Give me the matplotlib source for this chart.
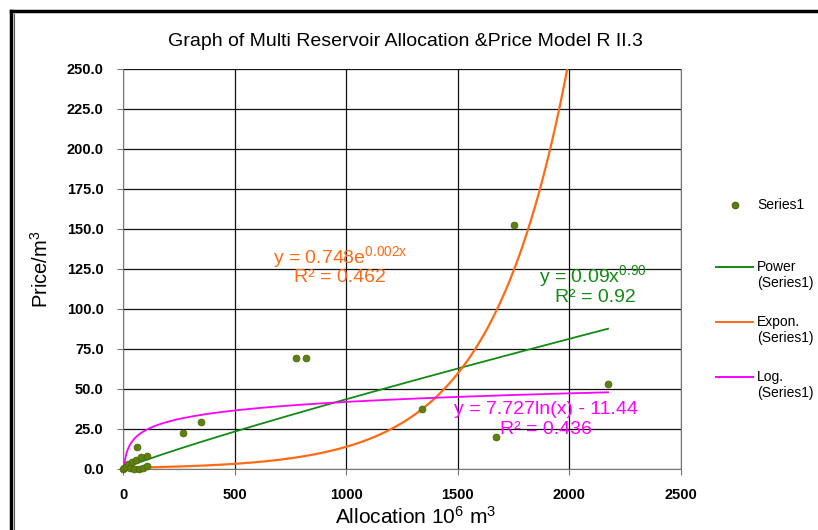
import numpy as np
import matplotlib
matplotlib.use('Agg')
import matplotlib.pyplot as plt
from matplotlib.lines import Line2D
from matplotlib.ticker import MultipleLocator, FormatStrFormatter

plt.rcParams['font.family'] = ['Liberation Sans', 'DejaVu Sans']
plt.rcParams['mathtext.default'] = 'regular'

# Series1 points (allocation, price)
alloc = [0, 5, 13, 24, 31, 42, 50, 58, 61, 73, 79, 90, 106, 106,
         269, 349, 775, 820, 1340, 1671, 1752, 2173]
price = [0.0, 0.5, 1.5, 2.9, 0.6, 4.2, 0.3, 5.6, 14.0, 0.2, 7.7, 0.5, 8.1, 1.9,
         22.5, 29.4, 69.4, 69.4, 37.5, 20.0, 152.5, 53.1]

# trendline parameters (as drawn)
pow_a, pow_b = 0.087, 0.90
exp_a, exp_k = 0.748, 0.00292
log_a, log_b = 7.727, -11.44

pow_label = ['y = 0.09x$^{0.90}$', 'R² = 0.92']
exp_label = ['y = 0.748e$^{0.002x}$', 'R² = 0.462']
log_label = ['y = 7.727ln(x) - 11.44', 'R² = 0.436']

c_pts = '#5f7f12'
c_pow = '#138a13'
c_exp = '#ff6a14'
c_log = '#ff00ff'

W, H = 818, 530
fig = plt.figure(figsize=(W/100, H/100), dpi=100)
ax = fig.add_axes([123/W, 61/H, 558/W, 400/H])

xx = np.linspace(0, max(alloc), 800)
ax.plot(xx, pow_a*xx**pow_b, color=c_pow, lw=1.3, zorder=3)
ax.plot(xx, exp_a*np.exp(exp_k*xx), color=c_exp, lw=1.6, zorder=3)
xl = np.linspace(1, max(alloc), 3000)
ax.plot(xl, log_a*np.log(xl) + log_b, color=c_log, lw=1.3, zorder=3)
ax.scatter(alloc, price, s=24, color=c_pts, edgecolor='#4d6a08', lw=0.6, zorder=4,
           clip_on=False)

ax.set_xlim(0, 2500)
ax.set_ylim(0, 250)
ax.xaxis.set_major_locator(MultipleLocator(500))
ax.yaxis.set_major_locator(MultipleLocator(25))
ax.yaxis.set_major_formatter(FormatStrFormatter('%.1f'))
ax.grid(True, color='#111111', lw=0.9)
ax.set_axisbelow(True)
ax.spines['top'].set_visible(False)
for s in ['left', 'bottom', 'right']:
    ax.spines[s].set_color('#777777')
ax.tick_params(axis='both', direction='out', length=4, color='#777777',
               labelsize=10.5)
ax.tick_params(axis='y', pad=10)
ax.tick_params(axis='x', pad=10)
for lab in ax.get_xticklabels() + ax.get_yticklabels():
    lab.set_fontweight('bold')

ax.set_xlabel('Allocation 10$^{6}$ m$^{3}$', fontsize=15)
ax.xaxis.set_label_coords(0.524, -0.093)
ax.set_ylabel('Price/m$^{3}$', fontsize=14.5)
ax.yaxis.set_label_coords(-0.128, 0.5)
fig.text(405/W, 1-42/H, 'Graph of Multi Reservoir Allocation &Price Model R II.3',
         ha='center', va='center', fontsize=14)

eq_fs = 14
ax.text(972, 132.5, exp_label[0], color=c_exp, fontsize=eq_fs, ha='center', va='center')
ax.text(972, 119.5, exp_label[1], color=c_exp, fontsize=eq_fs, ha='center', va='center')
ax.text(2105, 120.6, pow_label[0], color=c_pow, fontsize=eq_fs, ha='center', va='center')
ax.text(2115, 107.5, pow_label[1], color=c_pow, fontsize=eq_fs, ha='center', va='center')
ax.text(1895, 36.9, log_label[0], color=c_log, fontsize=eq_fs, ha='center', va='center')
ax.text(1895, 24.5, log_label[1], color=c_log, fontsize=eq_fs, ha='center', va='center')

# legend, laid out like the spreadsheet one (handle level with first text line)
fig.add_artist(Line2D([735/W], [1-205/H], ls='none', marker='o', ms=4.5,
                      color=c_pts, mec='#4d6a08'))
fig.text(757/W, 1-205/H, 'Series1', fontsize=10, va='center')
leg_lines = [(c_pow, 'Power', 267), (c_exp, 'Expon.', 322), (c_log, 'Log.', 377)]
for col, name, ypix in leg_lines:
    fig.add_artist(Line2D([716/W, 753/W], [1-ypix/H, 1-ypix/H], color=col, lw=1.4))
    fig.text(757/W, 1-ypix/H, name, fontsize=10, va='center')
    fig.text(757/W, 1-(ypix+16)/H, '(Series1)', fontsize=10, va='center')

# outer chart frame
fig.add_artist(Line2D([11/W, 11/W], [0, 1-11/H], color='black', lw=2.5))
fig.add_artist(Line2D([11/W, 1], [1-11/H, 1-11/H], color='black', lw=2.5))
fig.add_artist(Line2D([14/W, 14/W], [0, 1-14/H], color='#555555', lw=0.8))

fig.savefig('out.png', dpi=100)
